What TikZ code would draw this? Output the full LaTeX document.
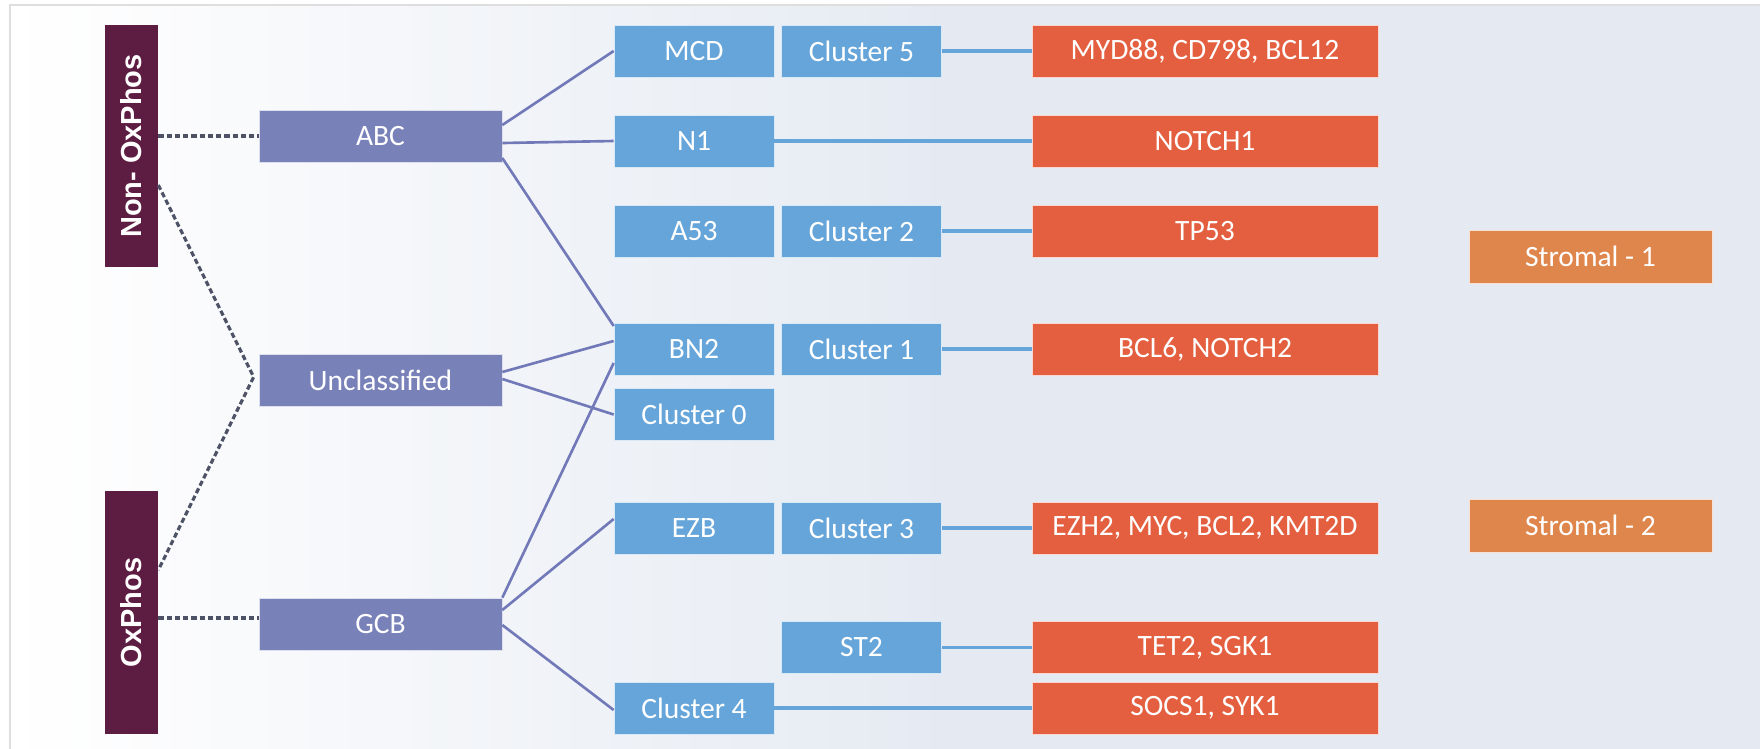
\documentclass[tikz,border=0pt]{standalone}
\usepackage{fontspec}
\setmainfont{Carlito}
\newfontfamily\barfont{Liberation Sans}
\usepackage{xcolor}
\usepackage{tikz}
\usetikzlibrary{calc,positioning}

\definecolor{plum}{HTML}{5D1C41}
\definecolor{coopurple}{HTML}{7981B9}
\definecolor{subblue}{HTML}{66A5D9}
\definecolor{genered}{HTML}{E45F3F}
\definecolor{stromorange}{HTML}{DF864C}
\definecolor{linkpurple}{HTML}{7279B8}
\definecolor{dotgray}{HTML}{4D5266}
\definecolor{bgblue}{HTML}{E5EAF2}

\begin{document}
\begin{tikzpicture}[x=0.02cm, y=-0.02cm,
          phenobar/.style={fill=plum, text=white, rotate=90, inner sep=0pt,
            minimum width=4.86cm, minimum height=1.06cm,
            font=\barfont\bfseries\fontsize{16.5}{18}\selectfont},
          coo/.style={fill=coopurple, draw=white!75!coopurple, line width=0.4pt,
            text=white, inner sep=0pt, minimum width=4.86cm, minimum height=1.04cm,
            font=\fontsize{16.8}{19}\selectfont},
          subtype/.style={coo, fill=subblue, draw=white!75!subblue, minimum width=3.2cm},
          gene/.style={coo, fill=genered, draw=white!75!genered, minimum width=6.92cm},
          stromal/.style={coo, fill=stromorange, draw=white!75!stromorange, minimum height=1.06cm},
          link/.style={draw=linkpurple, line width=1.5pt},
          lane/.style={draw=subblue, line width=2pt},
          dotlink/.style={draw=dotgray, line width=1.8pt, dash pattern=on 3pt off 1.7pt},
        ]
        \useasboundingbox (0,0) rectangle (1760,748);
        % backdrop: white to grey-blue in strips
        \fill[white] (0,0) rectangle (1760,748);
        \foreach \k [evaluate=\k as \pct using 100*\k/47] in {0,...,47}
          \fill[bgblue!\pct!white] ({10+20*\k},5) rectangle ({31+20*\k},760);
        \fill[bgblue] (950,5) rectangle (1770,760);
        \draw[black!13, line width=0.6pt] (10,760) -- (10,5) -- (1770,5);

        % phenotypes
        \node[phenobar] (nonox) at (131.5,146) {Non- OxPhos};
        \node[phenobar] (ox) at (131.5,612.5) {OxPhos};

        % cell of origin
        \node[coo] (abc) at (380.5,136) {ABC};
        \node[coo] (uncl) at (380.5,380.5) {Unclassified};
        \node[coo] (gcb) at (380.5,624) {GCB};

        % genetic subtypes
        \node[subtype] (mcd) at (694,51) {MCD};
        \node[subtype] (n1) at (694,141) {N1};
        \node[subtype] (a53) at (694,231) {A53};
        \node[subtype] (bn2) at (694,349) {BN2};
        \node[subtype] (cl0) at (694,414.5) {Cluster 0};
        \node[subtype] (ezb) at (694,528) {EZB};
        \node[subtype] (cl4) at (694,708) {Cluster 4};

        \node[subtype] (cl5) at (861.5,51) {Cluster 5};
        \node[subtype] (cl2) at (861.5,231) {Cluster 2};
        \node[subtype] (cl1) at (861.5,349) {Cluster 1};
        \node[subtype] (cl3) at (861.5,528) {Cluster 3};
        \node[subtype] (st2) at (861.5,647.5) {ST2};

        % driver genes
        \node[gene] (myd) at (1205,51) {MYD88, CD798, BCL12};
        \node[gene] (notch1) at (1205,141) {NOTCH1};
        \node[gene] (tp53) at (1205,231) {TP53};
        \node[gene] (bcl6) at (1205,349) {BCL6, NOTCH2};
        \node[gene] (ezh2) at (1205,528) {EZH2, MYC, BCL2, KMT2D};
        \node[gene] (tet2) at (1205,647.5) {TET2, SGK1};
        \node[gene] (socs1) at (1205,708) {SOCS1, SYK1};

        \node[stromal] (str1) at (1590.5,256.5) {Stromal - 1};
        \node[stromal] (str2) at (1590.5,525.5) {Stromal - 2};

        % dotted links (bar anchor south = right side)
        \coordinate (tip) at ($(uncl.west)+(-5,-3.5)$);
        \draw[dotlink] (abc.west -| nonox.south) -- (abc.west);
        \draw[dotlink] ($(gcb.west -| ox.south)+(0,-6)$) -- ($(gcb.west)+(0,-6)$);
        \draw[dotlink] ($(nonox.south)+(0,39)$) -- (tip) -- ($(ox.south)+(0,-42.5)$);

        % cell of origin to subtypes
        \draw[link] ($(abc.east)+(0,-11)$) -- (mcd.west);
        \draw[link] ($(abc.east)+(0,7)$) -- (n1.west);
        \draw[link] ($(abc.east)+(0,22)$) -- ($(bn2.west)+(0,-23)$);
        \draw[link] ($(uncl.east)+(0,-8.5)$) -- ($(bn2.west)+(0,-8)$);
        \draw[link] ($(uncl.east)+(0,-1.5)$) -- (cl0.west);
        \draw[link] (gcb.north east) -- ($(bn2.west)+(0,14)$);
        \draw[link] ($(gcb.east)+(0,-14)$) -- ($(ezb.west)+(0,-9)$);
        \draw[link] ($(gcb.east)+(0,1)$) -- ($(cl4.west)+(0,2)$);

        % subtypes to genes
        \draw[lane] (cl5) -- (myd);
        \draw[lane] (n1) -- (notch1);
        \draw[lane] (cl2) -- (tp53);
        \draw[lane] (cl1) -- (bcl6);
        \draw[lane] (cl3) -- (ezh2);
        \draw[lane] (st2) -- (tet2);
        \draw[lane] (cl4) -- (socs1);
      \end{tikzpicture}
\end{document}
